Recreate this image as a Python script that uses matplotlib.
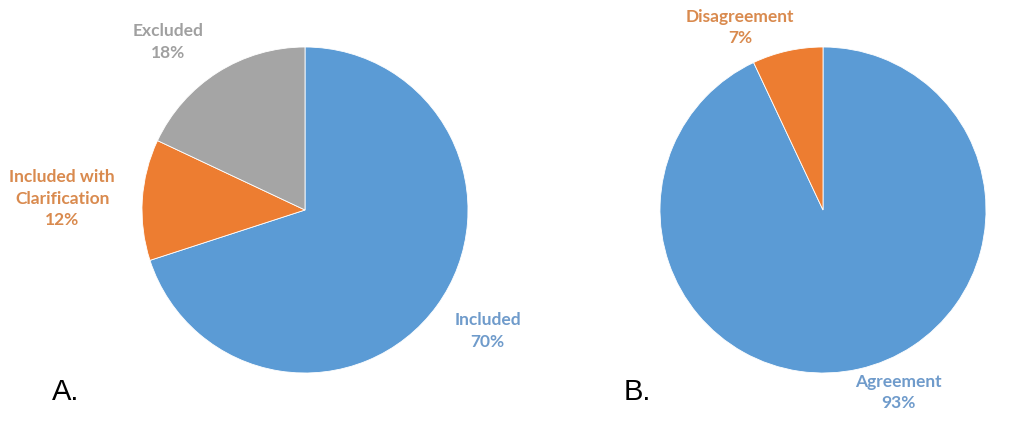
import matplotlib.pyplot as plt

W, H = 1035, 425

# panel A
a_labels = ["Included", "Included with\nClarification", "Excluded"]
a_values = [70, 12, 18]
# panel B
b_labels = ["Agreement", "Disagreement"]
b_values = [93, 7]

blue = "#5B9BD5"
orange = "#ED7D31"
gray = "#A5A5A5"
a_colors = [blue, orange, gray]
b_colors = [blue, orange]
a_text = ["#6F9BCB", "#D98A4E", "#A0A0A0"]
b_text = ["#6F9BCB", "#D98A4E"]

# label positions in pie-radius units
a_pos = [(1.12, -0.74), (-1.49, 0.07), (-0.84, 1.03)]
b_pos = [(0.46, -1.12), (-0.51, 1.12)]

fig = plt.figure(figsize=(W / 100, H / 100), dpi=100)
R = 163


def draw(cx, cy, values, colors, labels, pos, tcolors):
    ax = fig.add_axes([(cx - R) / W, (H - cy - R) / H, 2 * R / W, 2 * R / H])
    ax.pie(values, colors=colors, startangle=90, counterclock=False, radius=1,
           wedgeprops=dict(linewidth=0.6, edgecolor="white"))
    ax.set_xlim(-1, 1)
    ax.set_ylim(-1, 1)
    ax.set_aspect("equal")
    ax.axis("off")
    for lab, v, (x, y), c in zip(labels, values, pos, tcolors):
        ax.text(x, y, f"{lab}\n{v}%", ha="center", va="center", color=c,
                fontsize=12.5, fontweight="bold", family="Lato", linespacing=1.45,
                clip_on=False)
    return ax


draw(305, 210, a_values, a_colors, a_labels, a_pos, a_text)
draw(823, 210, b_values, b_colors, b_labels, b_pos, b_text)

fig.text(52 / W, (H - 400) / H, "A.", fontsize=21, family="Liberation Sans", color="black")
fig.text(624 / W, (H - 400) / H, "B.", fontsize=21, family="Liberation Sans", color="black")

fig.savefig("out.png", dpi=100, facecolor="white")
